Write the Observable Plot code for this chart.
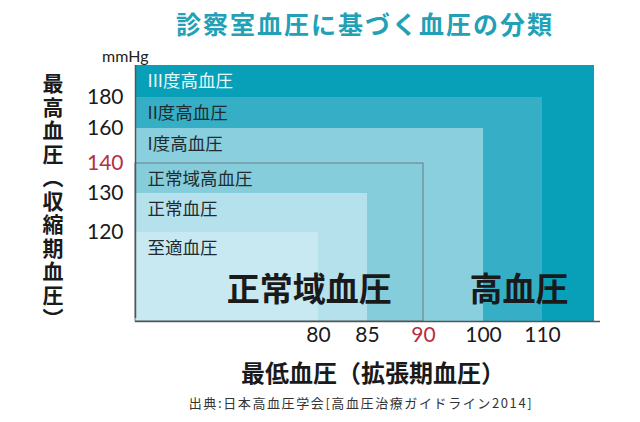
<!DOCTYPE html>
<html lang="ja">
<head>
<meta charset="utf-8">
<script src="https://cdn.jsdelivr.net/npm/d3@7"></script>
<script src="https://cdn.jsdelivr.net/npm/@observablehq/plot@0.6"></script>
<style>
  html, body { margin: 0; padding: 0; background: #fff; }
  #wrap { position: relative; width: 640px; height: 422px; overflow: hidden; font-family: "Noto Sans CJK JP", sans-serif; }
  #title { position: absolute; left: 90px; width: 550px; top: 0; line-height: 46px; text-align: center;
           font-size: 25px; font-weight: 700; letter-spacing: 2px; color: #22a0b6; }
  #ytitle { position: absolute; left: 42px; top: 73px; writing-mode: vertical-rl; line-height: 22px;
            font-size: 21px; font-weight: 700; letter-spacing: 2.5px; color: #1a1a1a; }
  #chart { position: absolute; left: 0; top: 44px; }
  #caption { position: absolute; left: 82px; width: 558px; top: 394px; line-height: 18px; text-align: center;
             font-size: 13px; letter-spacing: 1.6px; color: #333; }
</style>
</head>
<body>
<div id="wrap">
  <div id="title">診察室血圧に基づく血圧の分類</div>
  <div id="chart"></div>
  <div id="ytitle"></div>
  <div id="caption">出典:日本高血圧学会[高血圧治療ガイドライン2014]</div>
</div>
<script>
// Blood pressure categories (largest first), upper limits in mmHg
const bandNames  = ["III度高血圧", "II度高血圧", "I度高血圧", "正常域高血圧", "正常血圧", "至適血圧"];
const sbpLimit   = [200, 180, 160, 140, 130, 120];   // systolic upper bound of each region
const dbpLimit   = [120, 110, 100, 90, 85, 80];      // diastolic upper bound of each region
const bandColors = ["#08a0b8", "#36afc6", "#89cfde", "#86cddc", "#b5e1ec", "#c9e9f2"];

const xTicks = [80, 85, 90, 100, 110];
const yTicks = [120, 130, 140, 160, 180];
const cutoffX = 90, cutoffY = 140;

const groupLabels = ["正常域血圧", "高血圧"];
const groupX = [79, 106];
const groupY = [107, 107];

const yTitle = "最高血圧（収縮期血圧）";
const xTitle = "最低血圧（拡張期血圧）";

const xMin = 60, yMin = 100;
const idx = d3.range(bandNames.length);
const tickFont = "Lato, 'Open Sans', sans-serif";
const jpFont = "'Noto Sans CJK JP', sans-serif";

document.getElementById("ytitle").textContent = yTitle;

const plot = Plot.plot({
  width: 640,
  height: 346,
  marginLeft: 135,
  marginRight: 40,
  marginTop: 21,
  marginBottom: 69,
  style: { fontFamily: jpFont, background: "transparent" },
  x: { type: "linear", domain: [xMin, ...dbpLimit.slice().reverse()], range: [135, 318, 367, 423, 483, 542, 594], axis: null },
  y: { type: "linear", domain: [yMin, ...sbpLimit.slice().reverse()], range: [277, 188, 149, 119, 84, 53, 21], axis: null },
  color: { type: "ordinal", domain: bandNames, range: bandColors },
  marks: [
    Plot.rect(idx, { x1: () => xMin, x2: i => dbpLimit[i], y1: () => yMin, y2: i => sbpLimit[i], fill: i => bandNames[i] }),
    Plot.rect(idx.filter(i => sbpLimit[i] === cutoffY), { x1: () => xMin, x2: i => dbpLimit[i], y1: () => yMin, y2: i => sbpLimit[i], fill: "none", stroke: "#6b7a84", strokeWidth: 1 }),
    // band labels
    Plot.text(idx.filter(i => i === 0), { x: () => xMin, y: i => sbpLimit[i], text: i => bandNames[i], dx: 12, dy: 16, textAnchor: "start", fill: "#eaf8fb", fontSize: 17.5, fontFamily: jpFont }),
    Plot.text(idx.filter(i => i > 0), { x: () => xMin, y: i => sbpLimit[i], text: i => bandNames[i], dx: 12, dy: 16, textAnchor: "start", fill: "#1f2b2e", fontSize: 17.5, fontFamily: jpFont }),
    // group labels
    Plot.text(groupLabels, { x: (d, i) => groupX[i], y: (d, i) => groupY[i], text: d => d, fontSize: 33, fontWeight: "bold", fill: "#1a1a1a", fontFamily: jpFont }),
    // axes lines
    Plot.ruleY([yMin], { stroke: "#555", strokeWidth: 1.5 }),
    Plot.ruleX([xMin], { y1: yMin, y2: sbpLimit[0], insetTop: -3, stroke: "#555", strokeWidth: 1.5 }),
    // tick labels
    Plot.text(yTicks, { y: d => d, frameAnchor: "left", dx: -12, textAnchor: "end", text: d => String(d), fontSize: 21, fontFamily: tickFont, fill: d => d === cutoffY ? "#b3303c" : "#1a1a1a" }),
    Plot.text(xTicks, { x: d => d, frameAnchor: "bottom", dy: 20, text: d => String(d), fontSize: 21, fontFamily: tickFont, fill: d => d === cutoffX ? "#b3303c" : "#1a1a1a" }),
    // unit
    Plot.text(["mmHg"], { frameAnchor: "top-left", dx: 13, dy: -15, textAnchor: "end", fontSize: 16, fontFamily: tickFont, fill: "#222" }),
    // x-axis title
    Plot.text([xTitle], { frameAnchor: "bottom", dx: 5, dy: 60, textAnchor: "middle", fontSize: 24, fontWeight: "bold", fill: "#1a1a1a", fontFamily: jpFont, ariaLabel: "x-title" })
  ]
});

d3.select(plot).selectAll('g[aria-label="x-title"] text')
  .style("letter-spacing", "1.5px");

document.getElementById("chart").appendChild(plot);
</script>
</body>
</html>
